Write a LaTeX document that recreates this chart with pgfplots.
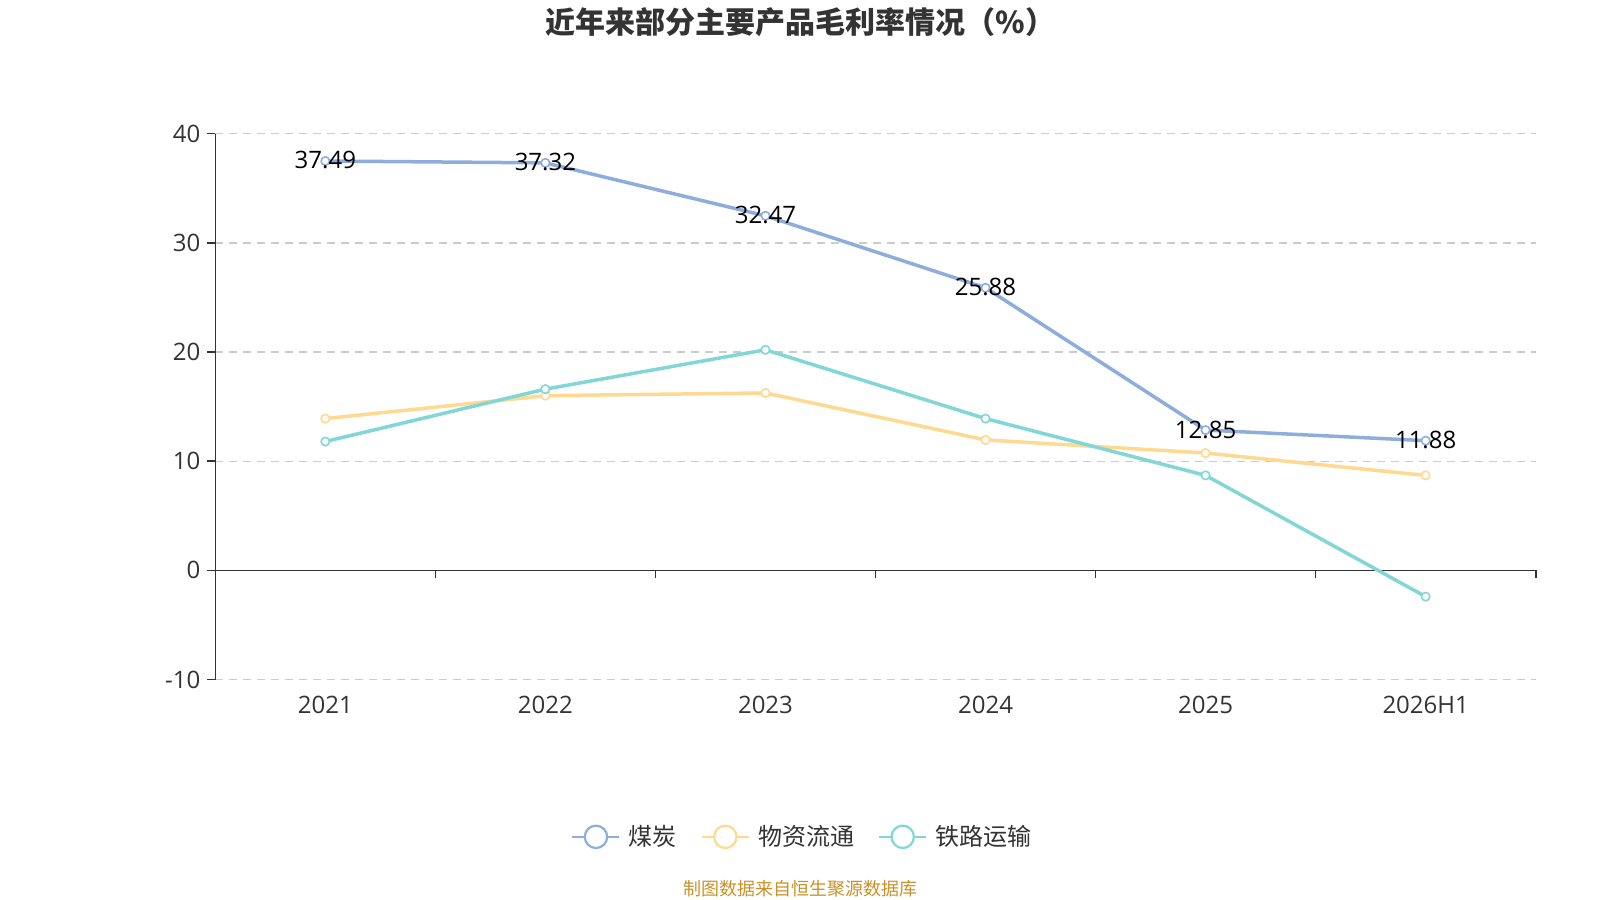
\documentclass[border=0pt]{standalone}
\usepackage{pgfplots}
\pgfplotsset{compat=1.18}
\usepackage{fontspec}
\setmainfont{Noto Sans CJK SC}
\newfontfamily\numfont{Open Sans}
\definecolor{cBlue}{HTML}{8DADDC}
\definecolor{cYellow}{HTML}{FFD98F}
\definecolor{cCyan}{HTML}{82D6D6}
\definecolor{axisgray}{HTML}{333333}
\definecolor{gridgray}{HTML}{CCCCCC}
\definecolor{srcgold}{HTML}{C8922A}
\begin{document}
\begin{tikzpicture}
\useasboundingbox (0,0) rectangle (800bp,450bp);
\begin{axis}[
  at={(107.65bp,110.2bp)}, anchor=south west,
  scale only axis, width=660.2bp, height=273bp,
  xmin=-0.5, xmax=5.5, ymin=-10, ymax=40,
  axis x line=bottom, axis y line*=left,
  x axis line style={draw=none},
  y axis line style={draw=axisgray, line width=0.8bp},
  xtick={0,1,2,3,4,5},
  xticklabels={2021,2022,2023,2024,2025,2026H1},
  xtick style={draw=none},
  xticklabel style={yshift=-0.5bp},
  ytick={-10,0,10,20,30,40},
  ytick style={draw=axisgray, line width=0.8bp},
  tick align=outside, major tick length=4bp,
  ymajorgrids, grid style={gridgray, dash pattern=on 4bp off 3bp, line width=0.7bp},
  ticklabel style={font=\numfont\fontsize{12bp}{14bp}\selectfont, text=axisgray},
  /pgf/number format/assume math mode=true,
  clip=false,
  legend style={at={(0.4455,-0.288)}, anchor=center, draw=none, fill=none,
    legend columns=3, font=\fontsize{12bp}{14bp}\selectfont, text=axisgray,
    /tikz/every even column/.append style={column sep=10bp},
    /tikz/every odd column/.append style={column sep=2.2bp}},
  legend image code/.code={
    \draw[line width=1bp] (0bp,0bp) -- (23.5bp,0bp);
    \draw[line width=1.1bp, fill=white] (11.75bp,0bp) circle (5.6bp);
  },
  every axis plot/.append style={line width=1.75bp, mark=*, mark size=2.1bp,
    mark options={fill=white, line width=0.8bp}},
]
\draw[axisgray, line width=0.8bp] (axis cs:-0.5,0) -- (axis cs:5.5,0);
\pgfplotsinvokeforeach{0.5,1.5,2.5,3.5,4.5,5.5}{
  \draw[axisgray, line width=0.8bp] (axis cs:#1,0) -- ([yshift=-4bp]axis cs:#1,0);
}
\addplot[cBlue, nodes near coords, point meta=explicit symbolic,
  every node near coord/.style={anchor=center, yshift=0.3bp, text=black, font=\numfont\fontsize{12bp}{14bp}\selectfont}]
  coordinates {(0,37.49)[37.49] (1,37.32)[37.32] (2,32.47)[32.47] (3,25.88)[25.88] (4,12.85)[12.85] (5,11.88)[11.88]};
\addlegendentry{煤炭}
\addplot[cYellow] coordinates {(0,13.9) (1,16.0) (2,16.25) (3,11.95) (4,10.75) (5,8.7)};
\addlegendentry{物资流通}
\addplot[cCyan] coordinates {(0,11.8) (1,16.6) (2,20.2) (3,13.9) (4,8.7) (5,-2.4)};
\addlegendentry{铁路运输}
\end{axis}
\node[font=\bfseries\fontsize{15bp}{18bp}\selectfont, text=axisgray] at (400.3bp,438.8bp) {近年来部分主要产品毛利率情况（\%）};
\node[font=\fontsize{9bp}{11bp}\selectfont, text=srcgold] at (400bp,5.6bp) {制图数据来自恒生聚源数据库};
\end{tikzpicture}
\end{document}
